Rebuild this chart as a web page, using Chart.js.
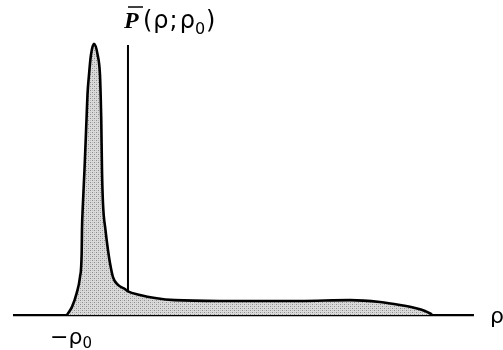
<!DOCTYPE html>
<html>
<head>
<meta charset="utf-8">
<script src="https://cdn.jsdelivr.net/npm/chart.js@4/dist/chart.umd.min.js"></script>
<style>
  html, body { margin: 0; padding: 0; background: #fff; }
  #wrap { width: 503px; height: 350px; }
</style>
</head>
<body>
<div id="wrap"><canvas id="densityChart" width="503" height="350"></canvas></div>
<script>
// rho in units of rho0, density in units of the peak height
const rhoValues = [-1.0, -0.918, -0.841, -0.787, -0.759, -0.754, -0.738, -0.713, -0.680, -0.664,
    -0.639, -0.607, -0.557, -0.497, -0.459, -0.448, -0.438, -0.426, -0.410, -0.369,
    -0.328, -0.295, -0.246, -0.164, -0.049, 0, 0.197, 0.443, 0.770, 1.508,
    2.820, 3.639, 4.131, 4.459, 4.705, 4.869, 4.984];
const densityValues = [0, 0.030, 0.081, 0.140, 0.229, 0.314, 0.413, 0.535, 0.720, 0.812,
    0.886, 0.959, 1.0, 0.959, 0.886, 0.812, 0.720, 0.535, 0.413, 0.314,
    0.240, 0.192, 0.140, 0.111, 0.096, 0.087, 0.074, 0.063, 0.055, 0.052,
    0.052, 0.055, 0.048, 0.037, 0.026, 0.015, 0.002];

// Axis extents
const rhoAxis = [-1.885, 5.672];
const densityAxis = [0, 0.996];

// Stippled grey fill like the printed figure
function makeStipple() {
    const c = document.createElement('canvas');
    c.width = 4;
    c.height = 4;
    const g = c.getContext('2d');
    g.fillStyle = '#dadada';
    g.fillRect(0, 0, 4, 4);
    g.fillStyle = '#8c8c8c';
    g.fillRect(0, 0, 1, 1);
    g.fillRect(2, 2, 1, 1);
    g.fillStyle = '#bcbcbc';
    g.fillRect(2, 0, 1, 1);
    g.fillRect(0, 2, 1, 1);
    return document.getElementById('densityChart').getContext('2d').createPattern(c, 'repeat');
}

// Draws pieces of text one after another with a little extra gap
function drawRun(c, x, y, parts) {
    parts.forEach(p => {
        c.font = p.font;
        c.fillText(p.text, x, y + (p.dy || 0));
        x += c.measureText(p.text).width + (p.gap || 0);
    });
    return x;
}

// Axis labels drawn as text next to the axes
const labelPlugin = {
    id: 'axisLabels',
    afterDatasetsDraw(chart) {
        const c = chart.ctx;
        const xs = chart.scales.x;
        const ys = chart.scales.y;
        c.save();
        c.fillStyle = '#000';
        c.strokeStyle = '#000';
        c.textBaseline = 'alphabetic';

        const big = '24px "DejaVu Sans"';
        const small = '16px "DejaVu Sans"';

        // P-bar(rho; rho0) above the vertical axis
        const x0 = xs.getPixelForValue(0);
        const y = ys.getPixelForValue(densityAxis[1]) - 17;
        c.font = 'italic bold 24px "Liberation Serif"';
        c.fillText('P', x0 - 4, y);
        c.lineWidth = 1.5;
        c.beginPath();
        c.moveTo(x0, y - 21);
        c.lineTo(x0 + 15, y - 21);
        c.stroke();
        drawRun(c, x0 + 15, y, [
            { text: '(', font: big, gap: 1 },
            { text: 'ρ', font: big, gap: 1 },
            { text: ';', font: big, gap: 2 },
            { text: 'ρ', font: big },
            { text: '0', font: small, dy: 6, gap: 1 },
            { text: ')', font: big }
        ]);

        // rho at the end of the horizontal axis
        const y0 = ys.getPixelForValue(0);
        c.font = '22px "DejaVu Sans"';
        c.fillText('ρ', xs.getPixelForValue(rhoAxis[1]) + 16, y0 + 8);

        // -rho0 under the left end of the curve
        drawRun(c, xs.getPixelForValue(-1) - 17, y0 + 29, [
            { text: '−ρ', font: '22px "DejaVu Sans"' },
            { text: '0', font: '15px "DejaVu Sans"', dy: 4 }
        ]);
        c.restore();
    }
};

const curve = rhoValues.map((r, i) => ({ x: r, y: densityValues[i] }));

new Chart(document.getElementById('densityChart'), {
    type: 'line',
    data: {
        datasets: [
            {
                data: curve,
                borderColor: '#000',
                borderWidth: 2.6,
                backgroundColor: makeStipple(),
                fill: 'origin',
                pointRadius: 0,
                cubicInterpolationMode: 'monotone'
            },
            {
                data: [{ x: rhoAxis[0], y: 0 }, { x: rhoAxis[1], y: 0 }],
                borderColor: '#000',
                borderWidth: 2.2,
                pointRadius: 0,
                fill: false
            },
            {
                data: [{ x: 0, y: densityAxis[0] }, { x: 0, y: densityAxis[1] }],
                borderColor: '#000',
                borderWidth: 2,
                pointRadius: 0,
                fill: false
            }
        ]
    },
    options: {
        responsive: false,
        animation: false,
        layout: { padding: 0 },
        plugins: {
            legend: { display: false },
            tooltip: { enabled: false }
        },
        scales: {
            x: { type: 'linear', min: -2.098, max: 6.148, display: false },
            y: { type: 'linear', min: -0.129, max: 1.162, display: false }
        }
    },
    plugins: [labelPlugin]
});
</script>
</body>
</html>
